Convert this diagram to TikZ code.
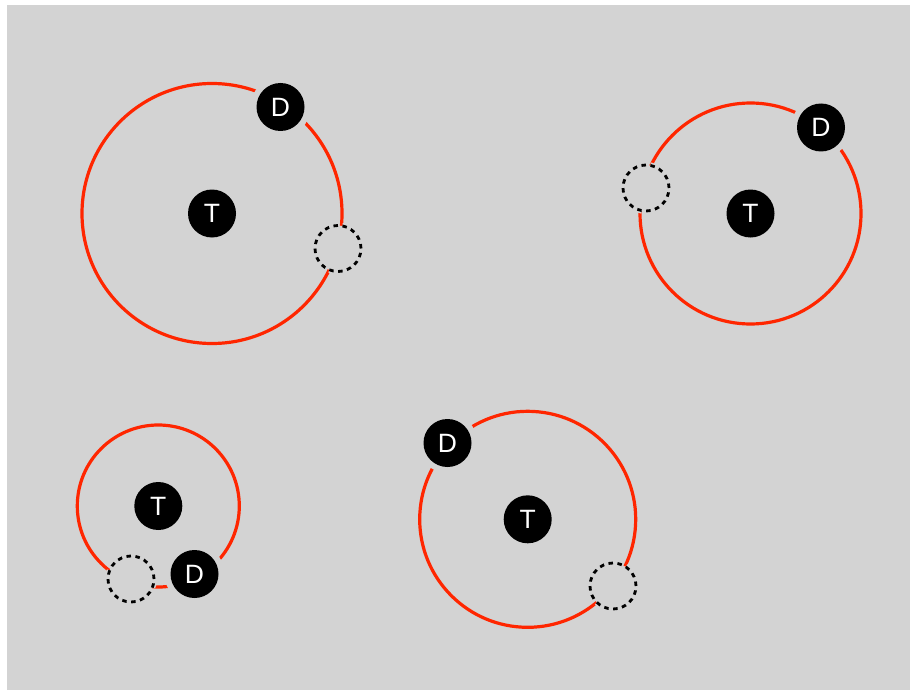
\documentclass[tikz,border=0pt]{standalone}
\usepackage{fontspec}
\setmainfont{Liberation Sans}
\definecolor{panel}{RGB}{211,211,211}
\definecolor{orbitred}{RGB}{255,38,0}
\tikzset{
  orbit/.style={draw=orbitred, line width=3.2pt},
  body/.style={circle, fill=black, text=white, minimum size=48pt, inner sep=0pt,
    font=\fontsize{26.5}{30}\selectfont},
  target/.style={body},
  drone/.style={body, preaction={draw=panel, line width=12pt}},
  ghost/.style={circle, minimum size=46pt, inner sep=0pt, fill=panel,
    preaction={draw=panel, line width=6pt},
    draw=black, line width=2.8pt, dash pattern=on 4.5pt off 4.53pt},
}
\begin{document}
\begin{tikzpicture}[x=1pt, y=-1pt]
  \useasboundingbox (0,0) rectangle (910,690);
  \fill[white] (0,0) rectangle (910,690);
  \fill[panel] (7,5) rectangle (910,690);

  % orbit centres
  \coordinate (c1) at (212,213.5);
  \coordinate (c2) at (750.5,213.5);
  \coordinate (c3) at (158.3,506);
  \coordinate (c4) at (527.7,519.3);

  % orbits
  \draw[orbit] (c1) circle[radius=130];
  \draw[orbit] (c2) circle[radius=110.5];
  \draw[orbit] (c3) circle[radius=81];
  \draw[orbit] (c4) circle[radius=108];

  % previous positions
  \node[ghost] (g1) at (338,248.5) {};
  \node[ghost] (g2) at (646,188) {};
  \node[ghost] (g3) at (131,579) {};
  \node[ghost] (g4) at (613,586) {};

  % targets
  \node[target] (t1) at (c1) {T};
  \node[target] (t2) at (c2) {T};
  \node[target] (t3) at (c3) {T};
  \node[target] (t4) at (c4) {T};

  % drones
  \node[drone] (d1) at (280.5,107) {D};
  \node[drone] (d2) at (821,127.5) {D};
  \node[drone] (d3) at (194.5,574) {D};
  \node[drone] (d4) at (447.5,443) {D};
\end{tikzpicture}
\end{document}
